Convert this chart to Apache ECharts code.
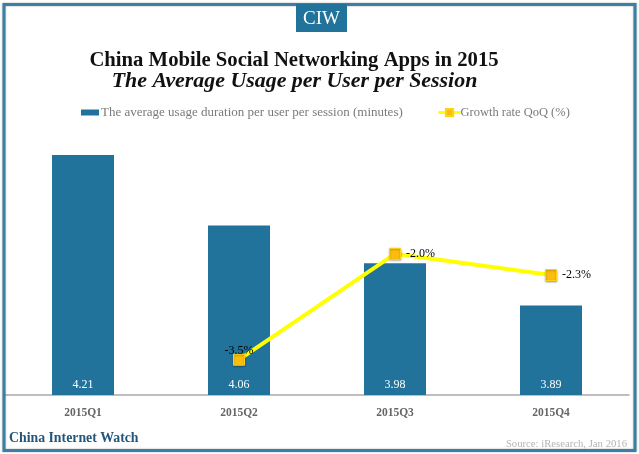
<!DOCTYPE html>
<html>
<head>
<meta charset="utf-8">
<style>html,body{margin:0;padding:0;background:#fff}#c{width:639px;height:454px}</style>
<script src="https://cdn.jsdelivr.net/npm/echarts@6/dist/echarts.min.js"></script>
</head>
<body>
<div id="c"></div>
<script>
const categories = ['2015Q1', '2015Q2', '2015Q3', '2015Q4'];
const usageMinutes = [4.21, 4.06, 3.98, 3.89];
const growthRate = [null, -3.5, -2.0, -2.3];
const labelPositions = ['top', 'top', 'right', 'right'];
const usageName = 'The average usage duration per user per session (minutes)';
const growthName = 'Growth rate QoQ (%)';
const titleLine1 = 'China Mobile Social Networking Apps in 2015';
const titleLine2 = 'The Average Usage per User per Session';
const brand = 'CIW';
const footerLeft = 'China Internet Watch';
const footerRight = 'Source: iResearch, Jan 2016';

const serif = '"Liberation Serif", serif';
const blue = '#21739c';
const chart = echarts.init(document.getElementById('c'), null, {renderer: 'canvas'});
chart.setOption({
  animation: false,
  backgroundColor: '#fff',
  grid: {left: 5, right: 10, top: 155, bottom: 59},
  legend: [
    {data: [{name: usageName, icon: 'rect'}], left: 76, top: 101, itemWidth: 18, itemHeight: 6, itemGap: 2,
     textStyle: {fontFamily: serif, fontSize: 13, color: '#7a7a7a', padding: [1, 0, 0, -3]}},
    {data: [growthName], left: 432, top: 101, itemWidth: 22, itemHeight: 9, itemGap: 2,
     lineStyle: {width: 3},
     textStyle: {fontFamily: serif, fontSize: 12.5, color: '#7a7a7a', padding: [1, 0, 0, -5]}}
  ],
  xAxis: {
    type: 'category', data: categories,
    axisTick: {show: false},
    axisLine: {lineStyle: {color: '#a9a9a9', width: 1.5}},
    axisLabel: {fontFamily: serif, fontSize: 11.5, fontWeight: 'bold', color: '#666', margin: 12}
  },
  yAxis: [
    {type: 'value', min: 3.7, max: 4.21, show: false, splitLine: {show: false}},
    {type: 'value', min: -4, max: -0.6, show: false, splitLine: {show: false}}
  ],
  series: [
    {name: usageName, type: 'bar', data: usageMinutes, barWidth: 62,
     itemStyle: {color: blue},
     label: {show: true, position: 'insideBottom', distance: 4, color: '#fff',
             fontFamily: serif, fontSize: 12, formatter: p => p.value.toFixed(2)}},
    {name: growthName, type: 'line', yAxisIndex: 1, connectNulls: false,
     data: growthRate.map((v, i) => ({
       value: v,
       label: {position: labelPositions[i], distance: labelPositions[i] === 'top' ? -3 : 5}
     })),
     symbol: 'rect', symbolSize: 11,
     lineStyle: {color: '#ffff00', width: 4},
     itemStyle: {color: '#fdbd0c', borderColor: '#ffd21a', borderWidth: 1,
                 shadowColor: 'rgba(0,0,0,0.3)', shadowBlur: 2, shadowOffsetY: 1},
     z: 5,
     label: {show: true, color: '#000', fontFamily: serif, fontSize: 12,
             formatter: p => p.value.toFixed(1) + '%'}}
  ],
  graphic: [
    {type: 'rect', z: 20, silent: true, shape: {x: 4, y: 4.5, width: 631, height: 446},
     style: {fill: 'none', stroke: '#3a80a5', lineWidth: 3, shadowColor: 'rgba(0,0,0,0.35)', shadowBlur: 2}},
    {type: 'rect', z: 21, silent: true, shape: {x: 296, y: 4, width: 51, height: 28}, style: {fill: blue}},
    {type: 'text', z: 22, silent: true, x: 321.5, y: 19,
     style: {text: brand, fill: '#fff', font: '19px ' + serif, align: 'center', verticalAlign: 'middle'}},
    {type: 'text', z: 22, silent: true, x: 294, y: 61,
     style: {text: titleLine1, fill: '#111', font: 'bold 20.7px ' + serif, align: 'center', verticalAlign: 'middle'}},
    {type: 'text', z: 22, silent: true, x: 294.5, y: 81,
     style: {text: titleLine2, fill: '#111', font: 'italic bold 21.9px ' + serif, align: 'center', verticalAlign: 'middle'}},
    {type: 'text', z: 22, silent: true, x: 9, y: 438,
     style: {text: footerLeft, fill: '#24567c', font: 'bold 13.8px ' + serif, align: 'left', verticalAlign: 'middle'}},
    {type: 'text', z: 22, silent: true, x: 627, y: 444.5,
     style: {text: footerRight, fill: '#b5b5b5', font: '10.7px ' + serif, align: 'right', verticalAlign: 'middle'}}
  ]
});
</script>
</body>
</html>
